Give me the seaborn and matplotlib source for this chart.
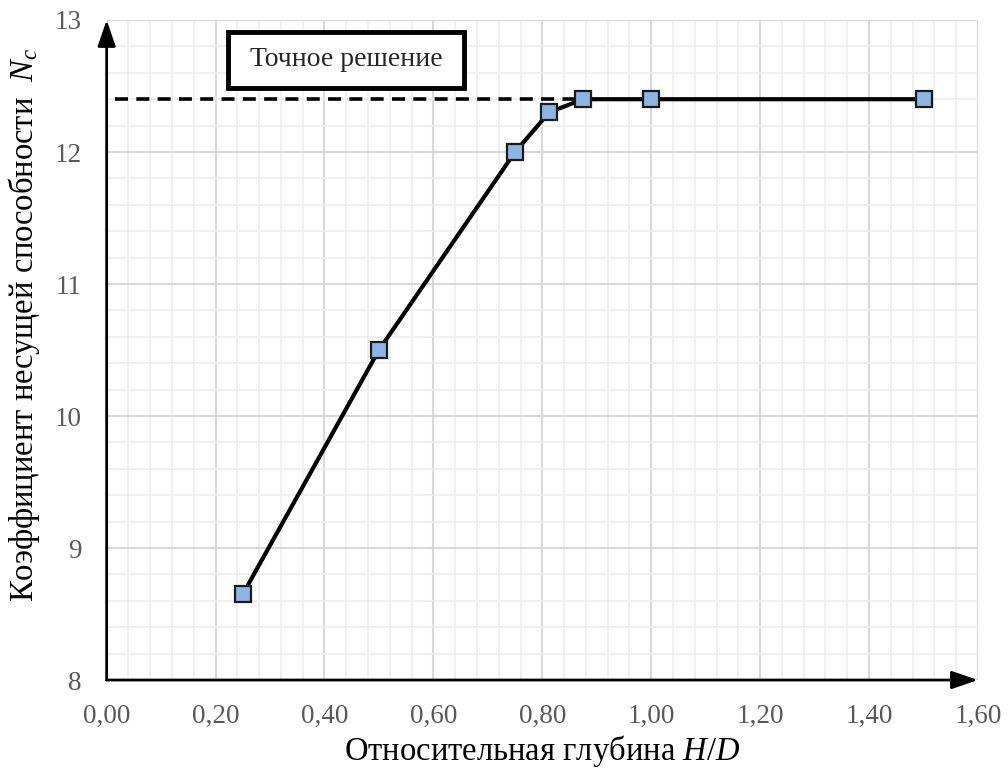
import matplotlib
matplotlib.use("Agg")
import matplotlib.pyplot as plt
import seaborn as sns
import numpy as np
import pandas as pd
from matplotlib.ticker import MultipleLocator, FuncFormatter
from matplotlib.patches import Rectangle

# data
hd = [0.25, 0.50, 0.75, 0.8125, 0.875, 1.00, 1.50]
nc = [8.65, 10.50, 12.00, 12.30, 12.40, 12.40, 12.40]
exact_x = [0.015, 0.875]
exact_y = [12.4, 12.4]
legend_text = "Точное решение"
xlabel = "Относительная глубина $\\mathit{H/D}$"
ylabel = "Коэффициент несущей способности  $\\mathit{N_c}$"

sns.set_style("white")
plt.rcParams['font.family'] = ['Liberation Serif', 'DejaVu Serif']
plt.rcParams['mathtext.fontset'] = 'custom'
plt.rcParams['mathtext.rm'] = 'Liberation Serif'
plt.rcParams['mathtext.it'] = 'Liberation Serif:italic'

fig = plt.figure(figsize=(10.08, 7.69), dpi=100)
ax = fig.add_axes([0.1058, 0.1157, 0.9702 - 0.1058, 0.974 - 0.1157])

df = pd.DataFrame({"x": hd, "y": nc})
ax.plot(exact_x, exact_y, color='black', lw=2.6, ls=(0, (3.6, 2.3)), zorder=3)
sns.lineplot(data=df, x="x", y="y", ax=ax, color='black', lw=3.0,
             marker='s', markersize=11, markerfacecolor='#8DB4E2',
             markeredgecolor='#1a1a1a', markeredgewidth=1.6, zorder=4)

ax.set_xlim(0, 1.6)
ax.set_ylim(8, 13)
ax.xaxis.set_major_locator(MultipleLocator(0.2))
ax.xaxis.set_minor_locator(MultipleLocator(0.04))
ax.yaxis.set_major_locator(MultipleLocator(1))
ax.yaxis.set_minor_locator(MultipleLocator(0.2))
ax.grid(which='minor', color='#eeeeee', lw=1.2, zorder=0)
ax.grid(which='major', color='#d9d9d9', lw=1.5, zorder=0)
ax.set_axisbelow(True)
ax.xaxis.set_major_formatter(FuncFormatter(lambda v, p: f"{v:.2f}".replace('.', ',')))
ax.yaxis.set_major_formatter(FuncFormatter(lambda v, p: f"{int(round(v))}"))
ax.tick_params(which='both', length=0, labelsize=19.5, colors='#595959')
ax.tick_params(axis='x', pad=17)
ax.tick_params(axis='y', pad=18)

for s in ['top', 'right', 'left', 'bottom']:
    ax.spines[s].set_visible(False)

# axes arrows
ax.annotate('', xy=(1.0, 0), xytext=(0, 0), xycoords='axes fraction',
            arrowprops=dict(arrowstyle='-|>,head_length=1.6,head_width=0.55', color='black', lw=2.0,
                            shrinkA=0, shrinkB=0), zorder=5)
ax.annotate('', xy=(0, 1.0), xytext=(0, 0), xycoords='axes fraction',
            arrowprops=dict(arrowstyle='-|>,head_length=1.6,head_width=0.55', color='black', lw=2.0,
                            shrinkA=0, shrinkB=0), zorder=5)

ax.set_xlabel(xlabel, fontsize=23.5, color='black', labelpad=3)
ax.set_ylabel(ylabel, fontsize=23.5, color='black')
ax.yaxis.set_label_coords(-0.0744, 0.538)

fig.patches.append(Rectangle((228 / 1008, 1 - 88 / 769), 236 / 1008, 56 / 769,
                             transform=fig.transFigure, facecolor='white',
                             edgecolor='black', lw=3.5, zorder=10))
fig.text(346 / 1008, 1 - 59 / 769, legend_text, fontsize=20, ha='center', va='center', zorder=11)

fig.savefig('out.png', dpi=100)
